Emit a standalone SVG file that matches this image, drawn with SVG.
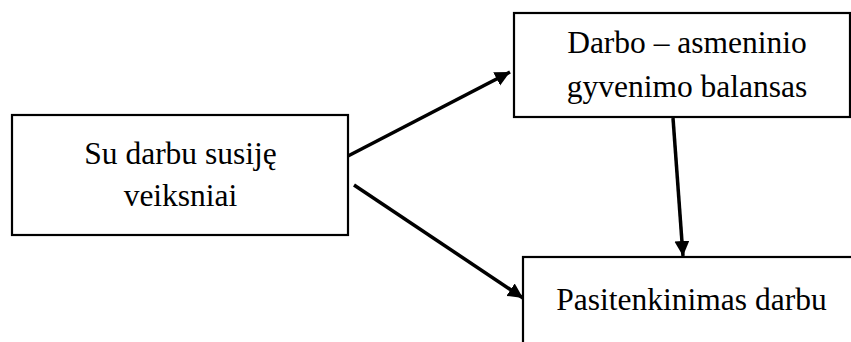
<svg xmlns="http://www.w3.org/2000/svg" width="851" height="342" viewBox="0 0 851 342">
<defs>
<marker id="ah" markerUnits="userSpaceOnUse" markerWidth="16" markerHeight="16" refX="15" refY="7.5" orient="auto">
<path d="M0,0 L15,7.5 L0,15 z" fill="#000"/>
</marker>
<style>
.box{fill:#fff;stroke:#000;stroke-width:2.2}
.t{font-family:"Liberation Serif","Times New Roman",serif;font-size:31.5px;fill:#000;text-anchor:middle}
.c{stroke:#000;stroke-width:3.5;fill:none}
</style>
</defs>
<rect width="851" height="342" fill="#fff"/>
<g id="n1">
<rect class="box" x="12" y="115" width="336" height="120"/>
<text class="t" x="180.5" y="164">Su darbu susiję</text>
<text class="t" x="180.5" y="206">veiksniai</text>
</g>
<g id="n2">
<rect class="box" x="514" y="13" width="336" height="104"/>
<text class="t" x="687" y="53">Darbo – asmeninio</text>
<text class="t" x="687" y="97">gyvenimo balansas</text>
</g>
<g id="n3">
<rect class="box" x="523" y="257" width="340" height="100"/>
<text class="t" x="691.5" y="310">Pasitenkinimas darbu</text>
</g>
<g id="connectors">
<line class="c" x1="348" y1="156" x2="510" y2="72" marker-end="url(#ah)"/>
<line class="c" x1="354" y1="185" x2="523" y2="298" marker-end="url(#ah)"/>
<line class="c" x1="673" y1="118" x2="683" y2="256" marker-end="url(#ah)"/>
</g>
</svg>
